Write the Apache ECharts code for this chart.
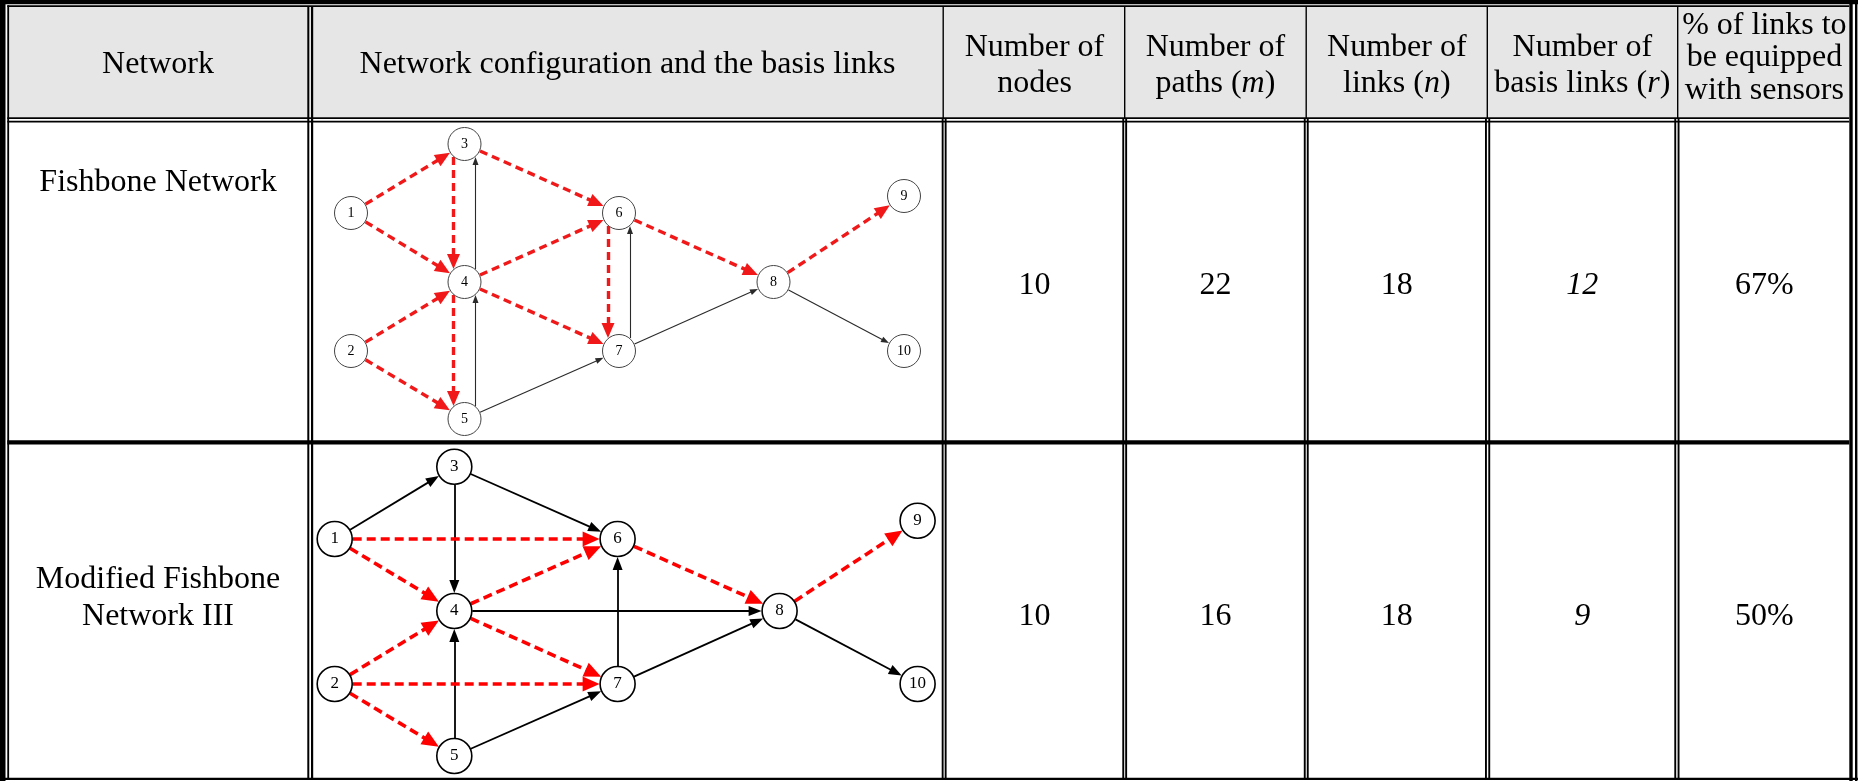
<!DOCTYPE html>
<html>
<head>
<meta charset="utf-8">
<script src="https://cdn.jsdelivr.net/npm/echarts@6/dist/echarts.min.js"></script>
<style>
html,body{margin:0;padding:0;background:#fff;}
#c{width:1858px;height:783px;}
</style>
</head>
<body>
<div id="c"></div>
<script>
// ---------------- DATA ----------------
const headerTexts = ['Network', 'Network configuration and the basis links', 'Number of\nnodes',
  'Number of\npaths (*m*)', 'Number of\nlinks (*n*)', 'Number of\nbasis links (*r*)',
  '% of links to\nbe equipped\nwith sensors'];
const networks = ['Fishbone Network', 'Modified Fishbone\nNetwork III'];
const numNodes = [10, 10];
const numPaths = [22, 16];
const numLinks = [18, 18];
const numBasis = [12, 9];
const pctSensors = [67, 50];

const nodeIds = ['1','2','3','4','5','6','7','8','9','10'];
// Fishbone network layout (node positions inside the drawing cell)
const fishX = [38, 38, 151.5, 151.5, 151.5, 306, 306, 460.5, 591, 591];
const fishY = [90, 228, 21, 159, 296, 90, 228, 159, 73, 228];
const fishBasisLinks = [[1,3],[1,4],[2,4],[2,5],[3,4],[3,6],[4,5],[4,6],[4,7],[6,7],[6,8],[8,9]];
const fishOtherLinks = [[4,3],[5,4],[7,6],[5,7],[7,8],[8,10]];
// Modified Fishbone network III layout
const modX = [21.7, 21.7, 141.3, 141.3, 141.3, 304.6, 304.6, 466.6, 604.6, 604.6];
const modY = [94, 239, 21.7, 166, 311, 94, 239, 166, 75.7, 239];
const modBasisLinks = [[1,6],[1,4],[2,4],[2,7],[2,5],[4,6],[4,7],[6,8],[8,9]];
const modOtherLinks = [[1,3],[3,6],[3,4],[5,4],[7,6],[4,8],[5,7],[7,8],[8,10]];

// ---------------- LAYOUT ----------------
const FONT = "'Liberation Serif','Times New Roman',serif";
const FS = 32;
const colCenters = [158, 627.5, 1034.5, 1215.4, 1396.8, 1582.3, 1764.4];
const headerY = [65, 65, 66, 66, 66, 66, 58];
const headerLH = [34, 34, 36, 36, 36, 36, 32.5];
const rowValueY = [286, 617];
const rowLabelY = [183, 598];

const chart = echarts.init(document.getElementById('c'), null, {renderer: 'canvas'});

function richLine(line) {
  return line.split('*').map((seg, k) => seg ? '{' + (k % 2 ? 'i' : 't') + '|' + seg + '}' : '').join('');
}
function richText(s) { return s.split('\n').map(richLine).join('\n'); }

const graphic = [];
function rect(x, y, w, h, fill, z) {
  graphic.push({type: 'rect', shape: {x: x, y: y, width: w, height: h}, style: {fill: fill || '#000'}, z: z || 20, silent: true});
}
// header background
rect(9.1, 7.1, 1840.2, 110.2, '#e6e6e6', 1);
// outer frame
rect(0, 0, 1858, 4.3);
rect(0, 0, 5.5, 781);
rect(7.3, 5.3, 1.8, 774.5);
rect(7.3, 5.3, 1842, 1.8);
rect(1849.3, 0, 3.4, 781);
rect(1855, 0, 2.4, 781);
rect(0, 777.7, 1858, 2.4);
// header bottom double line & row separator
rect(7.3, 117.3, 1842, 1.8);
rect(7.3, 120.7, 1842, 1.7);
rect(7.3, 440.3, 1842, 4.2);
// column separators
rect(307.3, 7, 2, 773); rect(311, 7, 2.2, 773);
const colSeps = [[942.5, 941.7, 944.7], [1124, 1122.3, 1125.2], [1305.5, 1303.8, 1306.8], [1486.6, 1485, 1488.3], [1677, 1674.3, 1677.6]];
colSeps.forEach(c => {
  rect(c[0], 7, 1.4, 111);
  rect(c[1], 119, 1.9, 661);
  rect(c[2], 119, 1.9, 661);
});

headerTexts.forEach((h, k) => {
  const lh = headerLH[k];
  const rich = {
    t: {fontFamily: FONT, fontSize: FS, lineHeight: lh, fill: '#000'},
    i: {fontFamily: FONT, fontSize: FS, lineHeight: lh, fill: '#000', fontStyle: 'italic'}
  };
  graphic.push({type: 'text', x: colCenters[k], y: headerY[k], z: 30, silent: true,
    style: {text: richText(h), rich: rich, align: 'center', verticalAlign: 'middle',
      fontFamily: FONT, fontSize: FS, lineHeight: lh, fill: '#000'}});
});
function cellText(txt, x, y, italic) {
  graphic.push({type: 'text', x: x, y: y, z: 30, silent: true,
    style: {text: String(txt), align: 'center', verticalAlign: 'middle', fontFamily: FONT,
      fontSize: FS, lineHeight: 37, fill: '#000', fontStyle: italic ? 'italic' : 'normal'}});
}
networks.forEach((n, r) => {
  cellText(n, colCenters[0], rowLabelY[r]);
  cellText(numNodes[r], colCenters[2], rowValueY[r]);
  cellText(numPaths[r], colCenters[3], rowValueY[r]);
  cellText(numLinks[r], colCenters[4], rowValueY[r]);
  cellText(numBasis[r], colCenters[5], rowValueY[r], true);
  cellText(pctSensors[r] + '%', colCenters[6], rowValueY[r]);
});

// ---------------- GRAPHS ----------------
function buildEdges(xs, ys, links, allLinks, r, off, arrowLen) {
  const has = (a, b) => allLinks.some(l => l[0] === a && l[1] === b);
  return links.map(([a, b]) => {
    const x1 = xs[a-1], y1 = ys[a-1], x2 = xs[b-1], y2 = ys[b-1];
    const dx = x2 - x1, dy = y2 - y1, L = Math.hypot(dx, dy), ux = dx / L, uy = dy / L;
    const o = has(b, a) ? off : 0;
    const px = -uy * o, py = ux * o;
    const s = Math.sqrt(r * r - o * o);
    const sx = x1 + px + ux * s, sy = y1 + py + uy * s;
    const tx = x2 + px - ux * s, ty = y2 + py - uy * s;
    return {coords: [[sx, sy], [tx - ux * arrowLen / 2, ty - uy * arrowLen / 2]]};
  });
}

const graphs = [
  {x: fishX, y: fishY, basis: fishBasisLinks, other: fishOtherLinks, r: 16.5, off: 11,
   red: '#f01818', redW: 3.4, redArrow: [13, 15], redDash: [8, 5],
   blk: '#2a2a2a', blkW: 1.1, blkArrow: [6, 8], nodeBorder: '#444', nodeBW: 1, fs: 14},
  {x: modX, y: modY, basis: modBasisLinks, other: modOtherLinks, r: 17.5, off: 11,
   red: '#ff0000', redW: 3.6, redArrow: [15, 17], redDash: [9, 5],
   blk: '#000', blkW: 1.8, blkArrow: [10, 13], nodeBorder: '#000', nodeBW: 1.6, fs: 17}
];

const series = [];
graphs.forEach((g, gi) => {
  const all = g.basis.concat(g.other);
  series.push({
    type: 'lines', coordinateSystem: 'cartesian2d', xAxisIndex: gi, yAxisIndex: gi,
    data: buildEdges(g.x, g.y, g.other, all, g.r + 0.5, g.off, g.blkArrow[1]),
    symbol: ['none', 'triangle'], symbolSize: [1, g.blkArrow],
    lineStyle: {color: g.blk, width: g.blkW, type: 'solid', opacity: 1, curveness: 0},
    z: 3, silent: true, animation: false
  });
  series.push({
    type: 'lines', coordinateSystem: 'cartesian2d', xAxisIndex: gi, yAxisIndex: gi,
    data: buildEdges(g.x, g.y, g.basis, all, g.r + 0.5, g.off, g.redArrow[1]),
    symbol: ['none', 'triangle'], symbolSize: [1, g.redArrow],
    lineStyle: {color: g.red, width: g.redW, type: g.redDash, opacity: 1, curveness: 0},
    z: 4, silent: true, animation: false
  });
  series.push({
    type: 'scatter', xAxisIndex: gi, yAxisIndex: gi, symbol: 'circle', symbolSize: g.r * 2,
    data: nodeIds.map((id, i) => ({name: id, value: [g.x[i], g.y[i]]})),
    itemStyle: {color: '#fff', borderColor: g.nodeBorder, borderWidth: g.nodeBW, opacity: 1},
    label: {show: true, position: 'inside', formatter: '{b}', color: '#000', fontFamily: FONT, fontSize: g.fs},
    z: 6, silent: true, clip: false, animation: false
  });
});

const option = {
  animation: false,
  backgroundColor: '#fff',
  grid: [
    {left: 313, top: 123, width: 629, height: 318},
    {left: 313, top: 445, width: 629, height: 333}
  ],
  xAxis: [
    {gridIndex: 0, type: 'value', min: 0, max: 629, show: false},
    {gridIndex: 1, type: 'value', min: 0, max: 629, show: false}
  ],
  yAxis: [
    {gridIndex: 0, type: 'value', min: 0, max: 318, inverse: true, show: false},
    {gridIndex: 1, type: 'value', min: 0, max: 333, inverse: true, show: false}
  ],
  graphic: graphic,
  series: series
};
chart.setOption(option);
</script>
</body>
</html>
